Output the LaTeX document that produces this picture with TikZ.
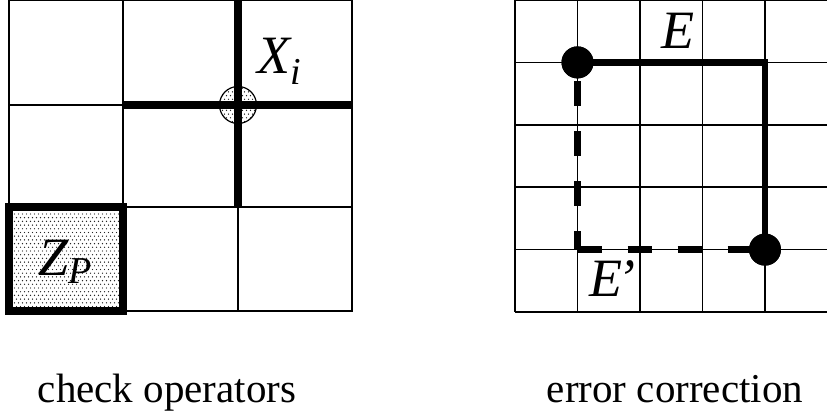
\documentclass[tikz,border=0pt]{standalone}
\usepackage{fontspec}
\setmainfont{Liberation Serif}
\usetikzlibrary{patterns}
\pgfdeclarepatternformonly{stagdots}{\pgfqpoint{-1pt}{-1pt}}{\pgfqpoint{4pt}{7.4pt}}{\pgfqpoint{4pt}{7.4pt}}{%
  \pgfpathcircle{\pgfqpoint{0.5pt}{0.5pt}}{0.7pt}%
  \pgfpathcircle{\pgfqpoint{2.5pt}{4.2pt}}{0.7pt}%
  \pgfusepath{fill}}
\begin{document}
\begin{tikzpicture}[x=1pt,y=-1pt,
  gridline/.style={line width=1.7pt,black},
  thickline/.style={line width=7.2pt},
  lbl/.style={font=\fontsize{54}{54}\selectfont\itshape, inner sep=0pt, anchor=base west},
  captiontext/.style={font=\fontsize{41}{41}\selectfont, inner sep=0pt, anchor=base},
  errdot/.style={circle, fill=black, minimum size=32pt, inner sep=0pt},
  dotfill/.style={pattern=stagdots, pattern color=black!85}]
\useasboundingbox (0,0) rectangle (827,418);
% left grid
\draw[gridline] (9,0) rectangle (352,311);
\foreach \x in {123,238} \draw[gridline] (\x,0) -- (\x,311);
\foreach \y in {105,207} \draw[gridline] (9,\y) -- (352,\y);
% Z_P plaquette
\draw[line width=8pt, dotfill] (9,207) rectangle (123,311);
\node[lbl] (zp) at (38,275) {Z\raisebox{-8pt}{\fontsize{38}{38}\selectfont P}};
% X_i star
\node[circle, draw, line width=1.2pt, minimum size=37pt, inner sep=0pt, dotfill] (xi) at (238,105) {};
\coordinate (sl) at (123,105);
\coordinate (sr) at (352,105);
\coordinate (st) at (238,0);
\coordinate (sb) at (238,207);
\draw[thickline] (sl) -- (sr);
\draw[thickline] (st) -- (sb);
\node[lbl] (xlab) at (257,73) {X\raisebox{-11pt}{\fontsize{38}{38}\selectfont i}};
% right grid
\foreach \i in {0,...,5} {
  \draw[gridline] ({515+62.5*\i},0) -- ({515+62.5*\i},312);
  \draw[gridline] (515,{62.4*\i}) -- (827.5,{62.4*\i});
}
\coordinate (c1) at (765,62.4);
\coordinate (c2) at (577.5,249.6);
\node[errdot] (a) at (577.5,62.4) {};
\node[errdot] (b) at (765,249.6) {};
\draw[line width=6.5pt] (a.center) -- (c1) -- (b.center);
\draw[line width=6.5pt, dash pattern=on 25pt off 25pt, dash phase=6pt] (c2) -- (a.center);
\draw[line width=6.5pt, dash pattern=on 24pt off 26pt] (c2) -- (b.center);
\node[errdot] at (a) {};
\node[errdot] at (b) {};
\node[lbl] (elab) at (661,48) {E};
\node[lbl] (eplab) at (589,296) {E\kern-5pt’};
% captions
\node[captiontext] (cap1) at (167,402) {check operators};
\node[captiontext] (cap2) at (675,402) {error correction};
\end{tikzpicture}
\end{document}
